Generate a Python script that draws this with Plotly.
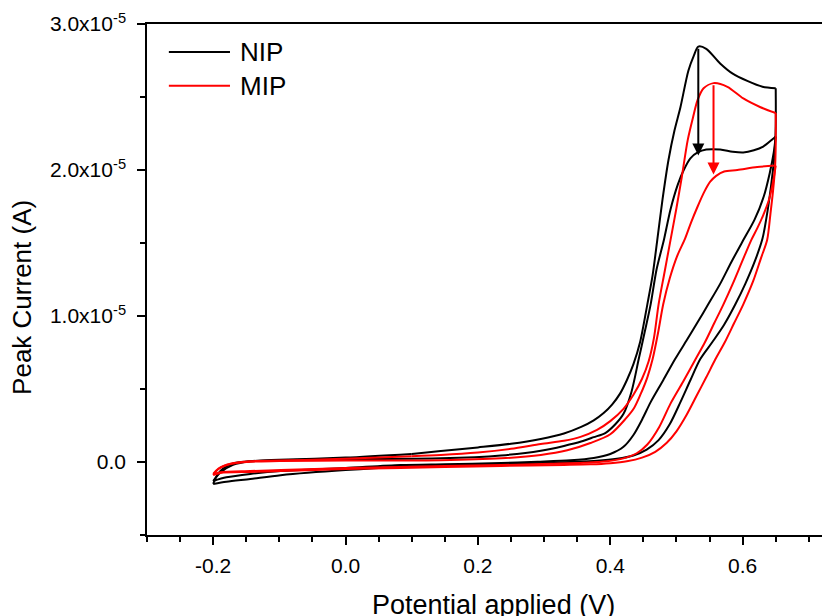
import plotly.graph_objects as go

# ---------------- data (potential in V, current in units of 1e-6 A) ----------------
# NIP (black): cycle 1 forward / reverse, cycle 2 forward / reverse, final segment
nip_fwd1_E = [0.10, 0.144, 0.20, 0.25, 0.295, 0.33, 0.356, 0.375, 0.39, 0.403, 0.415, 0.425, 0.435, 0.445,
              0.456, 0.464, 0.471, 0.479, 0.488, 0.497, 0.506, 0.518, 0.526, 0.533, 0.545, 0.566, 0.585,
              0.607, 0.63, 0.65]
nip_fwd1_I = [0.55, 0.75, 1.0, 1.25, 1.58, 1.95, 2.40, 2.85, 3.35, 3.95, 4.7, 5.6, 6.7, 8.2,
              10.8, 12.8, 15.2, 18.0, 20.7, 22.7, 24.3, 26.8, 27.8, 28.45, 28.3, 27.3, 26.6,
              26.1, 25.7, 25.6]
nip_rev1_E = [0.65, 0.65, 0.648, 0.644, 0.638, 0.630, 0.618, 0.604, 0.589, 0.572, 0.554, 0.536, 0.521,
              0.506, 0.49, 0.473, 0.455, 0.435, 0.41, 0.38, 0.34, 0.30, 0.235, 0.15, 0.083, 0.0,
              -0.098, -0.144, -0.18, -0.2]
nip_rev1_I = [25.6, 23.0, 21.0, 19.3, 17.3, 15.3, 13.7, 12.2, 10.8, 9.4, 8.2, 7.05, 5.6,
              4.1, 2.6, 1.5, 0.85, 0.45, 0.22, 0.08, 0.0, -0.06, -0.14, -0.25, -0.34, -0.55,
              -0.9, -1.16, -1.35, -1.5]
nip_fwd2_E = [-0.2, -0.195, -0.189, -0.18, -0.167, -0.144, -0.098, 0.0, 0.144, 0.235, 0.295, 0.33, 0.356,
              0.375, 0.393, 0.408, 0.42, 0.432, 0.443, 0.452, 0.461, 0.47, 0.481, 0.491, 0.502, 0.511,
              0.521, 0.532, 0.545, 0.566, 0.585, 0.601, 0.617, 0.631, 0.645, 0.65]
nip_fwd2_I = [-1.5, -1.0, -0.62, -0.3, -0.07, 0.05, 0.12, 0.2, 0.25, 0.45, 0.77, 1.1, 1.4,
              1.7, 2.0, 2.6, 3.3, 4.8, 7.05, 8.9, 10.8, 13.2, 15.2, 17.3, 19.0, 20.0,
              20.8, 21.2, 21.4, 21.4, 21.25, 21.2, 21.35, 21.6, 22.1, 22.3]
nip_rev2_E = [0.65, 0.647, 0.641, 0.632, 0.618, 0.601, 0.583, 0.566, 0.548, 0.531, 0.515, 0.498, 0.48,
              0.461, 0.448, 0.435, 0.42, 0.40, 0.375, 0.34, 0.29, 0.235, 0.15, 0.083, 0.0, -0.098,
              -0.144, -0.18, -0.2]
nip_rev2_I = [22.3, 21.2, 19.8, 18.2, 16.6, 15.2, 13.7, 12.2, 10.8, 9.5, 8.3, 7.05, 5.6,
              4.1, 2.9, 1.85, 1.04, 0.55, 0.28, 0.12, 0.02, -0.07, -0.15, -0.21, -0.41, -0.62,
              -0.82, -1.05, -1.3]
nip_end_E = [-0.2, -0.19, -0.17, -0.144, -0.1, 0.0, 0.1]
nip_end_I = [-1.3, -0.75, -0.2, 0.05, 0.15, 0.3, 0.55]

# MIP (red)
mip_fwd1_E = [0.10, 0.144, 0.20, 0.25, 0.295, 0.33, 0.355, 0.38, 0.40, 0.42, 0.435, 0.448, 0.458, 0.466,
              0.473, 0.482, 0.491, 0.50, 0.508, 0.517, 0.525, 0.532, 0.541, 0.556, 0.577, 0.601, 0.627,
              0.65]
mip_fwd1_I = [0.4, 0.48, 0.65, 0.9, 1.23, 1.45, 1.72, 2.2, 2.8, 3.64, 4.6, 5.7, 6.9, 8.5,
              10.8, 13.0, 15.2, 17.4, 19.5, 22.05, 23.6, 24.8, 25.6, 25.95, 25.7, 24.9, 24.3,
              23.9]
mip_rev1_E = [0.65, 0.65, 0.649, 0.646, 0.642, 0.637, 0.628, 0.616, 0.601, 0.587, 0.573, 0.559, 0.545,
              0.53, 0.515, 0.50, 0.485, 0.468, 0.448, 0.425, 0.40, 0.37, 0.33, 0.235, 0.15, 0.083,
              0.0, -0.098, -0.144, -0.189, -0.2]
mip_rev1_I = [23.9, 21.8, 20.2, 18.6, 17.0, 15.2, 14.0, 12.4, 10.8, 9.5, 8.2, 7.05, 5.8,
              4.5, 3.2, 2.1, 1.3, 0.7, 0.3, 0.05, -0.08, -0.16, -0.2, -0.27, -0.35, -0.41,
              -0.48, -0.62, -0.68, -0.75, -0.89]
mip_fwd2_E = [-0.2, -0.192, -0.174, -0.144, -0.1, 0.0, 0.144, 0.235, 0.295, 0.335, 0.37, 0.40, 0.423,
              0.436, 0.446, 0.456, 0.464, 0.472, 0.48, 0.49, 0.501, 0.513, 0.522, 0.532, 0.542, 0.551,
              0.56, 0.572, 0.592, 0.622, 0.65]
mip_fwd2_I = [-0.89, -0.48, -0.14, 0.02, 0.06, 0.1, 0.12, 0.25, 0.48, 0.8, 1.3, 1.9, 2.95,
              3.7, 4.66, 5.8, 7.05, 8.8, 10.8, 12.6, 14.1, 15.3, 16.4, 17.5, 18.5, 19.2,
              19.6, 19.9, 20.0, 20.2, 20.3]
mip_rev2_E = [0.65, 0.646, 0.64, 0.631, 0.622, 0.613, 0.598, 0.585, 0.571, 0.557, 0.543, 0.529, 0.51,
              0.491, 0.474, 0.456, 0.44, 0.42, 0.395, 0.36, 0.31, 0.235, 0.15, 0.083, 0.0, -0.098,
              -0.144, -0.189, -0.2]
mip_rev2_I = [20.3, 19.2, 18.0, 16.9, 16.0, 15.2, 13.6, 12.2, 10.8, 9.5, 8.2, 7.05, 5.5,
              4.0, 2.4, 1.2, 0.6, 0.25, 0.05, -0.05, -0.12, -0.21, -0.28, -0.34, -0.41, -0.55,
              -0.62, -0.7, -0.82]
mip_end_E = [-0.2, -0.192, -0.174, -0.144, -0.05, 0.05, 0.1]
mip_end_I = [-0.82, -0.45, -0.12, 0.05, 0.15, 0.3, 0.4]

# arrows (peak decrease from cycle 1 to cycle 2): potential, start current, end current (1e-6 A)
arrow_E = [0.533, 0.556]
arrow_I_start = [28.4, 25.9]
arrow_I_end = [21.0, 19.7]

series_names = ["NIP", "MIP"]
series_colors = ["#000000", "#ff0000"]

x_tick_vals = [-0.2, 0.0, 0.2, 0.4, 0.6]
x_tick_text = ["-0.2", "0.0", "0.2", "0.4", "0.6"]
y_tick_vals = [0.0, 1.0e-5, 2.0e-5, 3.0e-5]
y_tick_text = ["0.0", "1.0x10<sup>-5</sup>", "2.0x10<sup>-5</sup>", "3.0x10<sup>-5</sup>"]

# ---------------- figure ----------------
SCALE = 1e-6
FONT = "Arial, 'Liberation Sans', sans-serif"

nip_branches = [(nip_fwd1_E, nip_fwd1_I), (nip_rev1_E, nip_rev1_I), (nip_fwd2_E, nip_fwd2_I),
                (nip_rev2_E, nip_rev2_I), (nip_end_E, nip_end_I)]
mip_branches = [(mip_fwd1_E, mip_fwd1_I), (mip_rev1_E, mip_rev1_I), (mip_fwd2_E, mip_fwd2_I),
                (mip_rev2_E, mip_rev2_I), (mip_end_E, mip_end_I)]

fig = go.Figure()
for name, color, branches in zip(series_names, series_colors, [nip_branches, mip_branches]):
    for E, I in branches:
        fig.add_trace(go.Scatter(
            x=E, y=[v * SCALE for v in I], mode="lines", name=name, legendgroup=name,
            line=dict(color=color, width=2, shape="spline", smoothing=0.8),
            showlegend=False, hoverinfo="skip"))

annotations = []
for E, a, b, color in zip(arrow_E, arrow_I_start, arrow_I_end, series_colors):
    annotations.append(dict(
        x=E, y=b * SCALE, ax=E, ay=a * SCALE, xref="x", yref="y", axref="x", ayref="y",
        showarrow=True, arrowhead=2, arrowsize=1.2, arrowwidth=2, arrowcolor=color,
        text="", standoff=0))

# legend drawn with long line samples like the original
shapes = []
legend_y = [0.945, 0.879]
for name, color, ly in zip(series_names, series_colors, legend_y):
    shapes.append(dict(type="line", xref="paper", yref="paper", x0=0.032, x1=0.1215, y0=ly, y1=ly,
                       line=dict(color=color, width=2)))
    annotations.append(dict(text=name, xref="paper", yref="paper", x=0.133, y=ly, xanchor="left",
                            yanchor="middle", showarrow=False, font=dict(size=26, family=FONT, color="black")))

# axis titles
annotations.append(dict(text="Potential applied (V)", xref="paper", yref="paper", x=0.508, y=-0.137,
                        xanchor="center", yanchor="middle", showarrow=False,
                        font=dict(size=27, family=FONT, color="black")))
annotations.append(dict(text="Peak Current (A)", xref="paper", yref="paper", x=-0.183, y=0.464,
                        xanchor="center", yanchor="middle", textangle=-90, showarrow=False,
                        font=dict(size=26, family=FONT, color="black")))

# the page body adds an 8 px offset, so the figure is 8 px smaller and margins shifted
fig.update_layout(
    width=822, height=608,
    margin=dict(l=139, r=0, t=16, b=81),
    paper_bgcolor="white", plot_bgcolor="white",
    font=dict(family=FONT, size=21, color="black"),
    showlegend=False,
    annotations=annotations, shapes=shapes,
)

fig.update_xaxes(
    range=[-0.3, 0.732], showgrid=False, zeroline=False,
    showline=True, linecolor="black", linewidth=1.5, mirror=True,
    ticks="outside", ticklen=8, tickwidth=1.5, tickcolor="black",
    tickmode="array", tickvals=x_tick_vals, ticktext=x_tick_text,
    ticklabelstandoff=3,
    minor=dict(tickmode="linear", tick0=0, dtick=0.05, ticks="outside", ticklen=5,
               tickwidth=1.5, tickcolor="black", showgrid=False),
)
fig.update_yaxes(
    range=[-5e-6, 3e-5], showgrid=False, zeroline=False,
    showline=True, linecolor="black", linewidth=1.5, mirror=False,
    ticks="outside", ticklen=8, tickwidth=1.5, tickcolor="black",
    tickmode="array", tickvals=y_tick_vals, ticktext=y_tick_text,
    ticklabelstandoff=7,
    minor=dict(tickmode="linear", tick0=0, dtick=5e-6, ticks="outside", ticklen=5,
               tickwidth=1.5, tickcolor="black", showgrid=False),
)

fig.write_html("out.html")
